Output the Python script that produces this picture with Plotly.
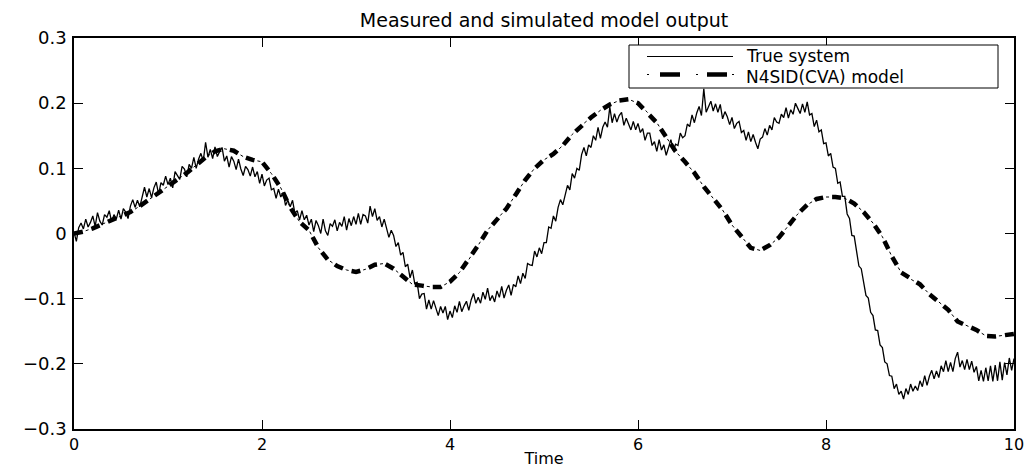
import plotly.graph_objects as go

# Sample periods (s) of the measured and simulated signals
dt_true = 0.025
dt_model = 0.1

# Measured output of the true system, t = 0 ... 10 s
true_output = [
    0.002, -0.012, 0.009, 0.016, 0.007, 0.022, 0.010, 0.017, 0.027, 0.011, 0.032, 0.019, 0.013, 0.029, 0.025, 0.035, 0.018, 0.029, 0.022, 0.036,
    0.022, 0.038, 0.033, 0.023, 0.042, 0.052, 0.040, 0.051, 0.041, 0.055, 0.071, 0.056, 0.069, 0.055, 0.070, 0.079, 0.060, 0.078, 0.074, 0.088,
    0.075, 0.085, 0.070, 0.095, 0.089, 0.083, 0.103, 0.099, 0.087, 0.106, 0.100, 0.117, 0.100, 0.114, 0.123, 0.111, 0.140, 0.117, 0.129, 0.115,
    0.133, 0.118, 0.126, 0.132, 0.111, 0.119, 0.102, 0.118, 0.111, 0.098, 0.114, 0.099, 0.089, 0.103, 0.098, 0.088, 0.102, 0.087, 0.095, 0.077,
    0.091, 0.073, 0.082, 0.085, 0.067, 0.069, 0.054, 0.068, 0.056, 0.063, 0.043, 0.051, 0.041, 0.051, 0.031, 0.035, 0.021, 0.035, 0.021, 0.028,
    0.013, 0.022, 0.003, 0.020, 0.012, 0.000, 0.022, 0.004, -0.003, 0.015, 0.011, 0.021, 0.004, 0.017, 0.011, 0.026, 0.005, 0.023, 0.012, 0.026,
    0.014, 0.031, 0.014, 0.029, 0.027, 0.016, 0.042, 0.026, 0.038, 0.020, 0.026, 0.010, 0.022, 0.006, -0.006, 0.005, -0.003, -0.020, -0.014, -0.033,
    -0.029, -0.051, -0.047, -0.068, -0.056, -0.077, -0.075, -0.100, -0.093, -0.092, -0.116, -0.102, -0.116, -0.103, -0.116, -0.126, -0.112, -0.122, -0.112, -0.132,
    -0.119, -0.129, -0.111, -0.121, -0.104, -0.120, -0.111, -0.104, -0.118, -0.102, -0.092, -0.107, -0.098, -0.107, -0.090, -0.101, -0.084, -0.103, -0.095, -0.105,
    -0.088, -0.098, -0.081, -0.099, -0.087, -0.079, -0.095, -0.078, -0.082, -0.065, -0.077, -0.061, -0.069, -0.046, -0.048, -0.049, -0.027, -0.036, -0.022, -0.031,
    -0.014, -0.014, 0.010, 0.008, 0.027, 0.019, 0.040, 0.052, 0.044, 0.059, 0.074, 0.067, 0.092, 0.085, 0.100, 0.097, 0.121, 0.132, 0.119, 0.136,
    0.132, 0.150, 0.143, 0.163, 0.146, 0.163, 0.171, 0.163, 0.194, 0.170, 0.184, 0.171, 0.181, 0.186, 0.166, 0.177, 0.168, 0.159, 0.172, 0.159,
    0.169, 0.155, 0.161, 0.143, 0.154, 0.154, 0.135, 0.141, 0.126, 0.144, 0.128, 0.136, 0.120, 0.133, 0.144, 0.127, 0.137, 0.135, 0.154, 0.147,
    0.150, 0.168, 0.164, 0.182, 0.170, 0.185, 0.195, 0.181, 0.222, 0.186, 0.196, 0.203, 0.188, 0.199, 0.186, 0.198, 0.176, 0.187, 0.179, 0.167,
    0.178, 0.161, 0.169, 0.172, 0.155, 0.158, 0.143, 0.156, 0.141, 0.152, 0.140, 0.130, 0.145, 0.148, 0.161, 0.151, 0.166, 0.159, 0.178, 0.171,
    0.169, 0.183, 0.178, 0.193, 0.177, 0.190, 0.183, 0.200, 0.192, 0.184, 0.199, 0.186, 0.202, 0.182, 0.184, 0.164, 0.174, 0.156, 0.159, 0.138,
    0.139, 0.119, 0.123, 0.102, 0.100, 0.077, 0.079, 0.057, 0.057, 0.030, 0.023, -0.003, -0.004, -0.024, -0.050, -0.054, -0.072, -0.095, -0.099, -0.121,
    -0.126, -0.148, -0.149, -0.171, -0.175, -0.197, -0.200, -0.218, -0.219, -0.238, -0.231, -0.247, -0.242, -0.254, -0.238, -0.247, -0.231, -0.242, -0.234, -0.241,
    -0.226, -0.235, -0.218, -0.233, -0.219, -0.210, -0.223, -0.211, -0.221, -0.203, -0.212, -0.195, -0.212, -0.198, -0.212, -0.192, -0.182, -0.205, -0.195, -0.209,
    -0.193, -0.209, -0.196, -0.213, -0.204, -0.226, -0.210, -0.227, -0.206, -0.226, -0.203, -0.227, -0.202, -0.226, -0.197, -0.225, -0.198, -0.217, -0.191, -0.210,
    -0.192,
]

# Simulated output of the identified N4SID(CVA) model, t = 0 ... 10 s
model_output = [
    0.000, 0.003, 0.008, 0.014, 0.020, 0.026, 0.033, 0.042, 0.052, 0.062,
    0.072, 0.082, 0.093, 0.105, 0.117, 0.126, 0.130, 0.127, 0.118, 0.113,
    0.110, 0.092, 0.070, 0.040, 0.018, 0.005, -0.022, -0.040, -0.050, -0.056,
    -0.059, -0.055, -0.048, -0.046, -0.054, -0.066, -0.078, -0.080, -0.082, -0.082,
    -0.074, -0.060, -0.040, -0.018, 0.005, 0.022, 0.038, 0.060, 0.082, 0.100,
    0.113, 0.122, 0.135, 0.152, 0.166, 0.178, 0.189, 0.198, 0.204, 0.206,
    0.200, 0.186, 0.170, 0.148, 0.126, 0.110, 0.093, 0.072, 0.054, 0.036,
    0.013, -0.004, -0.022, -0.026, -0.018, -0.006, 0.012, 0.030, 0.044, 0.053,
    0.056, 0.056, 0.054, 0.046, 0.033, 0.016, -0.005, -0.035, -0.060, -0.070,
    -0.078, -0.093, -0.105, -0.117, -0.135, -0.142, -0.148, -0.157, -0.158, -0.156,
    -0.154,
]

x_ticks = [0, 2, 4, 6, 8, 10]
y_ticks = [-0.3, -0.2, -0.1, 0, 0.1, 0.2, 0.3]
y_tick_text = ["\u22120.3", "\u22120.2", "\u22120.1", "0", "0.1", "0.2", "0.3"]

series_names = ["True system", "N4SID(CVA) model"]

t_true = [i * dt_true for i in range(len(true_output))]
t_model = [i * dt_model for i in range(len(model_output))]

FONT = "DejaVu Sans, Liberation Sans, Arial, sans-serif"

# Plot-area geometry in pixels, used to place the legend box
PLOT_L, PLOT_R, PLOT_T, PLOT_B = 74, 1014, 38, 429


def px_x(x):
    return (x - PLOT_L) / (PLOT_R - PLOT_L)


def px_y(y):
    return (PLOT_B - y) / (PLOT_B - PLOT_T)


fig = go.Figure()

# Measured signal: thin solid line
fig.add_trace(go.Scatter(
    x=t_true, y=true_output, mode="lines", name=series_names[0],
    line=dict(color="black", width=1.3), showlegend=False,
))

# Model output: thick dashes with thin dots between them (dash-dot style)
fig.add_trace(go.Scatter(
    x=t_model, y=model_output, mode="lines", name=series_names[1],
    line=dict(color="black", width=4.5, dash="9px,9px"), showlegend=False,
))
fig.add_trace(go.Scatter(
    x=t_model, y=model_output, mode="lines", name=series_names[1],
    line=dict(color="black", width=1, dash="0px,12px,3px,3px"), showlegend=False,
    hoverinfo="skip",
))

# Legend box in the upper-right corner of the axes
row1_y, row2_y = 55.5, 76.5
shapes = [
    dict(type="rect", xref="paper", yref="paper", x0=px_x(629), x1=px_x(998), y0=px_y(88), y1=px_y(45),
         line=dict(color="black", width=1), fillcolor="white", layer="above"),
    dict(type="line", xref="paper", yref="paper", x0=px_x(647), x1=px_x(733),
         y0=px_y(row1_y + 1), y1=px_y(row1_y + 1),
         line=dict(color="black", width=1), layer="above"),
]
# dash-dot sample: dot, dash, dot, dash, dot
for x0, x1, w in [(647, 649, 1), (660, 680, 4.5), (696, 698, 1), (707, 727, 4.5), (732, 734, 1)]:
    shapes.append(dict(type="line", xref="paper", yref="paper",
                       x0=px_x(x0), x1=px_x(x1), y0=px_y(row2_y - 2), y1=px_y(row2_y - 2),
                       line=dict(color="black", width=w), layer="above"))

annotations = [
    dict(text=series_names[0], xref="paper", yref="paper", x=px_x(744), y=px_y(row1_y),
         xanchor="left", yanchor="middle", showarrow=False,
         font=dict(family=FONT, size=17, color="black")),
    dict(text=series_names[1], xref="paper", yref="paper", x=px_x(744), y=px_y(row2_y),
         xanchor="left", yanchor="middle", showarrow=False,
         font=dict(family=FONT, size=17, color="black")),
]

axis_common = dict(
    showgrid=False, zeroline=False, showline=True, linecolor="black", linewidth=1.5,
    mirror="ticks", ticks="inside", ticklen=9, tickwidth=1, tickcolor="black",
    automargin=False,
)

fig.update_layout(
    width=1035, height=470,
    margin=dict(l=PLOT_L, r=1035 - PLOT_R, t=PLOT_T, b=470 - PLOT_B, autoexpand=False),
    paper_bgcolor="white", plot_bgcolor="white",
    title=dict(text="Measured and simulated model output", x=0.5, xref="paper", xanchor="center",
               y=1 - 20 / 470, yref="container", yanchor="middle",
               font=dict(family=FONT, size=19, color="black")),
    xaxis=dict(range=[0, 10], tickvals=x_ticks, ticklabelstandoff=0,
               tickfont=dict(family=FONT, size=16, color="black"),
               title=dict(text="Time", standoff=0, font=dict(family=FONT, size=16, color="black")),
               **axis_common),
    yaxis=dict(range=[-0.3, 0.3], tickvals=y_ticks, ticktext=y_tick_text,
               tickfont=dict(family=FONT, size=18, color="black"),
               ticklabelstandoff=2, **axis_common),
    shapes=shapes,
    annotations=annotations,
    showlegend=False,
)

fig.write_html("out.html")
